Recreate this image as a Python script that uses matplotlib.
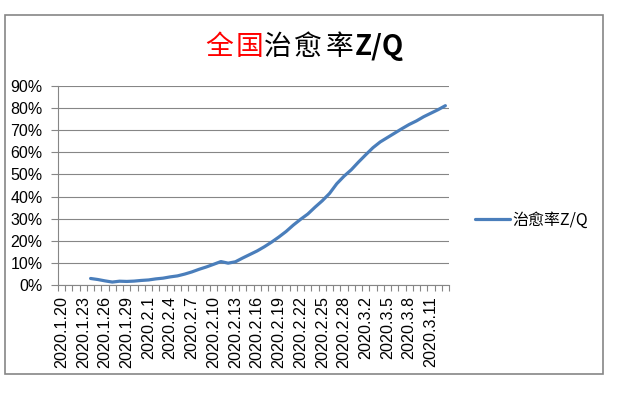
import numpy as np
import matplotlib
matplotlib.use("Agg")
import matplotlib.pyplot as plt
from matplotlib.patches import Rectangle

# dates shown on the category axis (Jan 20 - Mar 13, 2020)
dates = (["2020.1.%d" % d for d in range(20, 32)]
         + ["2020.2.%d" % d for d in range(1, 30)]
         + ["2020.3.%d" % d for d in range(1, 14)])

# cure rate in percent; no data for the first four days
cure_rate = [np.nan, np.nan, np.nan, np.nan,
             2.95, 2.48, 1.86, 1.33, 1.72, 1.61, 1.76, 2.06,
             2.28, 2.76, 3.09, 3.67, 4.12, 4.94, 5.93, 7.12, 8.17, 9.37,
             10.6, 9.88, 10.5, 12.2, 13.8, 15.4, 17.3, 19.4, 21.7, 24.2,
             27.1, 29.7, 32.1, 35.2, 38.1, 41.4, 45.8, 49.2, 52.1,
             55.6, 58.9, 62.1, 64.7, 66.7, 68.7, 70.7, 72.6, 74.2, 76.1,
             77.7, 79.3, 81.1]

y_ticks = list(range(0, 100, 10))
series_name = "治愈率Z/Q"

W, H = 619, 393
grid_c = "#868686"
line_c = "#4A7EBB"

fig = plt.figure(figsize=(W / 100, H / 100), dpi=100)
ax = fig.add_axes([58 / W, 1 - 285 / H, (449 - 58) / W, (285 - 86) / H])

x = np.arange(len(dates))
line, = ax.plot(x, cure_rate, color=line_c, lw=2.3, solid_capstyle="round",
                label=series_name)

ax.set_xlim(-0.5, len(dates) - 0.5)
ax.set_ylim(0, 90)

# category ticks sit between categories, labels every third day
ax.set_xticks(np.arange(-0.5, len(dates)), minor=False, labels=[])
ax.set_xticks(x[::3], minor=True, labels=dates[::3])
ax.tick_params(axis="x", which="major", direction="out", length=4,
               color=grid_c, width=0.8)
ax.tick_params(axis="x", which="minor", length=0, pad=8,
               labelrotation=90, labelsize=11.6)
for lab in ax.get_xticklabels(minor=True):
    lab.set_fontfamily("Liberation Sans")

ax.set_yticks(y_ticks, labels=["%d%%" % v for v in y_ticks])
ax.tick_params(axis="y", direction="out", length=5, color=grid_c,
               width=0.8, pad=6, labelsize=11.5)
for lab in ax.get_yticklabels():
    lab.set_fontfamily("Liberation Sans")

ax.grid(axis="y", color=grid_c, lw=0.8)
ax.set_axisbelow(True)
for s in ["top", "right"]:
    ax.spines[s].set_visible(False)
for s in ["left", "bottom"]:
    ax.spines[s].set_color(grid_c)
    ax.spines[s].set_linewidth(0.8)

# title, drawn piece by piece for the mixed colours
cjk = ["Noto Sans CJK SC", "DejaVu Sans"]
title_parts = [("全", "red", "normal", 219), ("国", "red", "normal", 249),
               ("治", "black", "normal", 278), ("愈", "black", "normal", 308),
               ("率", "black", "normal", 339), ("Z/Q", "black", "bold", 379)]
for txt, col, wt, cx in title_parts:
    fig.text(cx / W, 1 - 47 / H, txt, color=col, fontweight=wt,
             family=cjk, fontsize=20, ha="center", va="center")

fig.legend(handles=[line], loc="center left",
           bbox_to_anchor=(475 / W, 1 - 220 / H), frameon=False,
           borderpad=0, borderaxespad=0, handlelength=2.2,
           handletextpad=0.15, prop={"family": cjk, "size": 11.5})

# chart area border
fig.patches.append(Rectangle((5 / W, 1 - 374 / H), (603 - 5) / W,
                             (374 - 15) / H, transform=fig.transFigure,
                             fill=False, edgecolor=grid_c, lw=1.2))

fig.savefig("out.png", dpi=100)
